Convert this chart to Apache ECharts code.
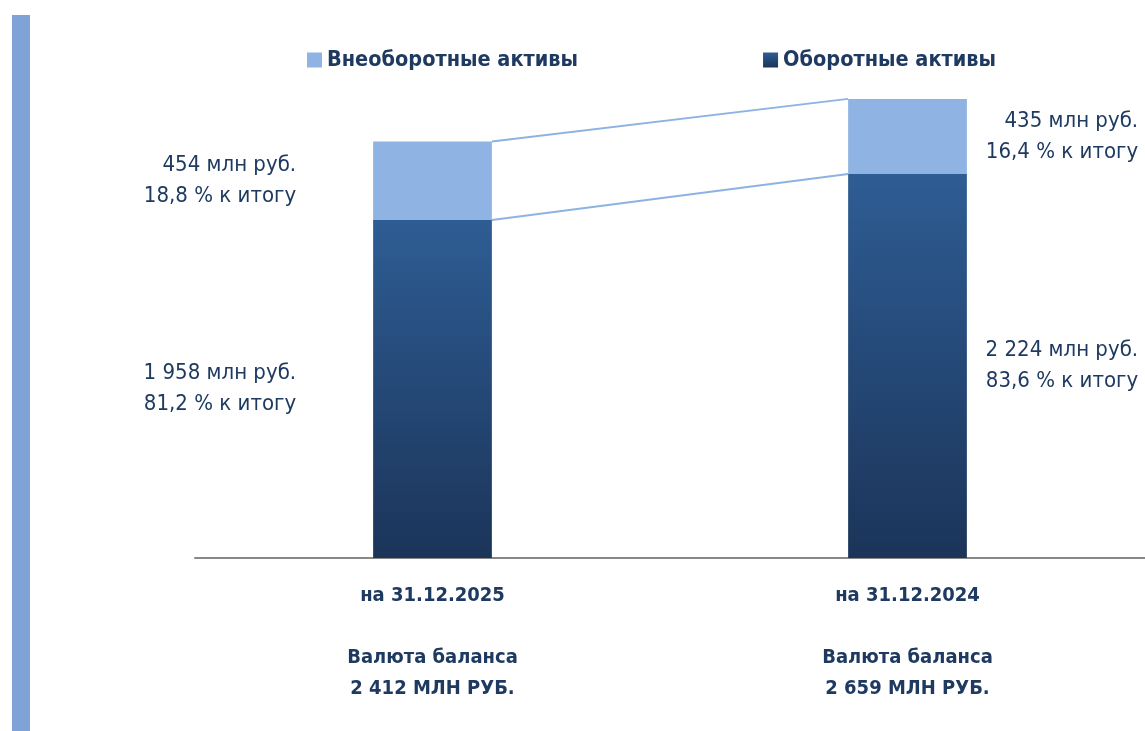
<!DOCTYPE html>
<html>
<head>
<meta charset="utf-8">
<script src="https://cdn.jsdelivr.net/npm/echarts@6/dist/echarts.min.js"></script>
<style>
  html, body { margin: 0; padding: 0; background: #fff; }
  #chart { width: 1145px; height: 731px; }
</style>
</head>
<body>
<div id="chart"></div>
<script>
const categories = ['на 31.12.2025', 'на 31.12.2024']
const totalLabels = ['2 412 МЛН РУБ.', '2 659 МЛН РУБ.']
const currentAssets = [1958, 2224]
const currentShare = ['81,2', '83,6']
const fixedAssets = [454, 435]
const fixedShare = ['18,8', '16,4']
const seriesNames = ['Внеоборотные активы', 'Оборотные активы']

const font = "'Liberation Sans Narrow', 'DejaVu Sans Condensed', Arial, sans-serif"
const navy = '#1F3A60'
const light = '#8FB3E2'
const darkGrad = new echarts.graphic.LinearGradient(0, 0, 0, 1, [
  { offset: 0, color: '#2E5D94' },
  { offset: 1, color: '#1B3459' },
])

function sideLabel(i, value, share) {
  const left = i === 0
  return {
    value: value,
    label: {
      show: true,
      position: left ? [-77, '50%'] : [290, '50%'],
      align: 'right',
      verticalAlign: 'middle',
      formatter: value.toLocaleString('ru-RU').replace(/\s/g, ' ') + ' млн руб.\n' + share + ' % к итогу',
      color: navy,
      fontFamily: font,
      fontSize: 22,
      lineHeight: 31,
    },
  }
}

const myChart = echarts.init(document.getElementById('chart'))
myChart.setOption({
  animation: false,
  graphic: [
    { type: 'rect', left: 12, top: 15, shape: { width: 18, height: 716 }, style: { fill: '#7FA3D6' } },
  ],
  legend: {
    top: 44,
    left: 302,
    itemGap: 185,
    itemWidth: 15,
    itemHeight: 15,
    icon: 'rect',
    data: seriesNames,
    textStyle: { color: navy, fontFamily: font, fontSize: 21.5, fontWeight: 'bold' },
  },
  grid: { left: 195, right: 0, top: 40, bottom: 173 },
  xAxis: {
    type: 'category',
    data: categories,
    axisTick: { show: false },
    axisLine: { lineStyle: { color: '#888', width: 2 } },
    axisLabel: {
      margin: 22,
      color: navy,
      fontFamily: font,
      fontSize: 20,
      fontWeight: 'bold',
      lineHeight: 31,
      formatter: (v, i) => v + '\n\nВалюта баланса\n' + totalLabels[i],
    },
  },
  yAxis: { type: 'value', min: 0, max: 3000, show: false },
  series: [
    {
      name: seriesNames[1],
      type: 'bar',
      stack: 'a',
      barWidth: '25%',
      itemStyle: { color: darkGrad },
      data: currentAssets.map((v, i) => sideLabel(i, v, currentShare[i])),
    },
    {
      name: seriesNames[0],
      type: 'bar',
      stack: 'a',
      itemStyle: { color: light },
      data: fixedAssets.map((v, i) => sideLabel(i, v, fixedShare[i])),
    },
    {
      type: 'custom',
      silent: true,
      data: [[0, 1]],
      renderItem: (params, api) => {
        const bw = api.size([1, 0])[0] * 0.25 / 2
        const lines = []
        const levels = [
          [currentAssets[0], currentAssets[1]],
          [currentAssets[0] + fixedAssets[0], currentAssets[1] + fixedAssets[1]],
        ]
        levels.forEach(([a, b]) => {
          const p1 = api.coord([0, a])
          const p2 = api.coord([1, b])
          lines.push({
            type: 'line',
            shape: { x1: p1[0] + bw, y1: p1[1], x2: p2[0] - bw, y2: p2[1] },
            style: { stroke: '#8DB3E2', lineWidth: 2 },
          })
        })
        return { type: 'group', children: lines }
      },
    },
  ],
})
</script>
</body>
</html>
